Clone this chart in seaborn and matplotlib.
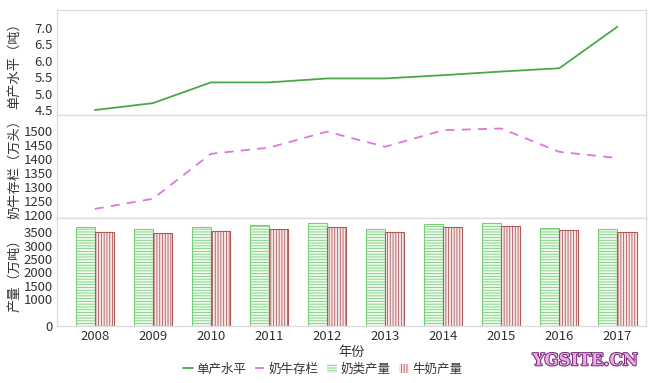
import numpy as np
import pandas as pd
import matplotlib
matplotlib.use('Agg')
import matplotlib.pyplot as plt
import seaborn as sns
from matplotlib.patches import Patch
from matplotlib.lines import Line2D
import matplotlib.patheffects as pe

# ---- data ----
years = ['2008', '2009', '2010', '2011', '2012', '2013', '2014', '2015', '2016', '2017']
yield_per_cow = [4.50, 4.71, 5.34, 5.34, 5.46, 5.46, 5.56, 5.67, 5.77, 7.03]
cow_stock = [1222, 1258, 1418, 1440, 1497, 1443, 1502, 1508, 1425, 1403]
dairy_output = [3690, 3636, 3712, 3777, 3852, 3625, 3803, 3852, 3674, 3625]
milk_output = [3511, 3473, 3549, 3614, 3712, 3511, 3690, 3727, 3576, 3511]

series_names = ['单产水平', '奶牛存栏', '奶类产量', '牛奶产量']
top_ticks = [4.5, 5.0, 5.5, 6.0, 6.5, 7.0]
mid_ticks = [1200, 1250, 1300, 1350, 1400, 1450, 1500]
bot_ticks = [0, 1000, 1500, 2000, 2500, 3000, 3500]

# ---- style ----
sns.set_theme(style='white')
plt.rcParams['font.family'] = ['Noto Sans CJK SC', 'DejaVu Sans']
plt.rcParams['hatch.linewidth'] = 0.6

GREEN_LINE = '#4aa84a'
PINK = '#dd77dd'
GREEN_FACE = '#eefaee'
GREEN_EDGE = '#77d077'
RED_FACE = '#f6e8e8'
RED_EDGE = '#b05a5a'
SPINE = '#dddddd'
TXT = '#333333'

fig = plt.figure(figsize=(6.53, 3.83), dpi=100)
L, R = 0.0873, 0.989
ax1 = fig.add_axes([L, 0.6997, R - L, 0.974 - 0.6997])
ax2 = fig.add_axes([L, 0.431, R - L, 0.6997 - 0.431])
ax3 = fig.add_axes([L, 0.149, R - L, 0.431 - 0.149])

# top: yield line
sns.lineplot(x=years, y=yield_per_cow, ax=ax1, color=GREEN_LINE, lw=1.3)
# middle: cow stock dashed line
sns.lineplot(x=years, y=cow_stock, ax=ax2, color=PINK, lw=1.3)
ax2.lines[0].set_dashes((5, 4))

# bottom: bars
df_bar = pd.DataFrame({
    'year': years * 2,
    'value': dairy_output + milk_output,
    'series': [series_names[2]] * len(years) + [series_names[3]] * len(years),
})
sns.barplot(data=df_bar, x='year', y='value', hue='series',
            palette=[GREEN_FACE, RED_FACE], width=0.66, saturation=1,
            ax=ax3, legend=False)
for cont, face, edge, hatch in zip(ax3.containers,
                                   [GREEN_FACE, RED_FACE],
                                   [GREEN_EDGE, RED_EDGE],
                                   ['------', '||||||']):
    for p in cont:
        p.set_facecolor(face)
        p.set_edgecolor(edge)
        p.set_hatch(hatch)
        p.set_linewidth(0.8)

# axes formatting
for ax in (ax1, ax2, ax3):
    ax.set_xlim(-0.65, 9.49)
    for s in ax.spines.values():
        s.set_color(SPINE)
        s.set_linewidth(1.0)
    ax.tick_params(axis='both', length=0, pad=3, labelsize=9.5, labelcolor=TXT)
    ax.set_xlabel('')

ax1.set_ylim(4.35, 7.54)
ax1.set_yticks(top_ticks)
ax1.set_yticklabels([f'{t:.1f}' for t in top_ticks])
ax2.set_ylim(1190, 1556)
ax2.set_yticks(mid_ticks)
ax3.set_ylim(0, 4040)
ax3.set_yticks(bot_ticks)

for ax in (ax1, ax2):
    ax.tick_params(axis='x', labelbottom=False, bottom=False)

ax1.set_ylabel('单产水平（吨）', fontsize=9.5, color=TXT)
ax2.set_ylabel('奶牛存栏（万头）', fontsize=9.5, color=TXT)
ax3.set_ylabel('产量（万吨）', fontsize=9.5, color=TXT)
for ax in (ax1, ax2, ax3):
    ax.yaxis.set_label_coords(-0.061, 0.5)

ax3.set_xlabel('年份', fontsize=9.5, color=TXT, labelpad=2)

# legend
handles = [
    Line2D([0], [0], color=GREEN_LINE, lw=1.3),
    Line2D([0], [0], color=PINK, lw=1.3, dashes=(5, 4)),
    Patch(facecolor=GREEN_FACE, edgecolor=GREEN_EDGE, hatch='------', lw=0),
    Patch(facecolor=RED_FACE, edgecolor=RED_EDGE, hatch='||||||', lw=0),
]
fig.legend(handles, series_names, loc='center', bbox_to_anchor=(0.494, 0.036),
           ncol=4, frameon=False, fontsize=9, handlelength=0.8,
           handletextpad=0.25, columnspacing=0.7, labelcolor=TXT)

# watermark
fig.text(0.896, 0.058, 'YGSITE.CN', color='#f4a6f0', fontsize=12,
         fontweight='bold', family='DejaVu Serif', ha='center', va='center',
         path_effects=[pe.withStroke(linewidth=1.4, foreground='#6a2a6a')])

fig.savefig('out.png', dpi=100)
